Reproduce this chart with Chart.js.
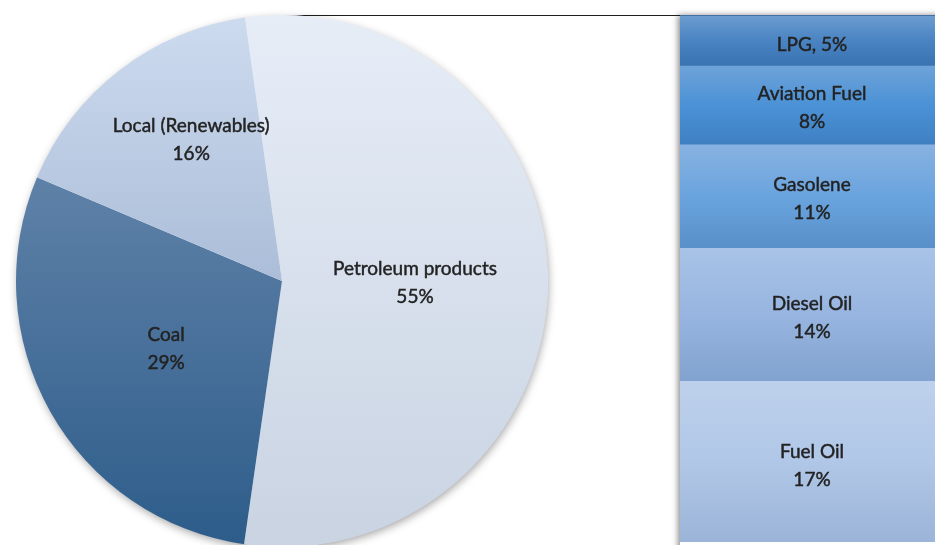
<!DOCTYPE html>
<html><head><meta charset="utf-8">
<script src="https://cdn.jsdelivr.net/npm/chart.js@4.4.0/dist/chart.umd.min.js"></script>
<style>
html,body{margin:0;padding:0;width:935px;height:545px;overflow:hidden;background:#fff;}
canvas{position:absolute;left:0;top:0;}
</style></head><body>
<canvas id="barC" width="948" height="545"></canvas>
<canvas id="pieC" width="564" height="564"></canvas>
<script>
// ---- data ----
const pieLabels = ['Petroleum products', 'Coal', 'Local (Renewables)'];
const pieValues = [54.5, 29.1, 16.4];
const barNames = ['LPG', 'Aviation Fuel', 'Gasolene', 'Diesel Oil', 'Fuel Oil'];
const barValues = [5.3, 8.3, 10.9, 14.0, 17.0];

// ---- styles ----
const FONT = '19px Lato';
const TXT = '#222222';
const pieGrad = [
  {c: ['#e6edf7', '#c9d3e2'], y: [-1, 1]},
  {c: ['#6183a9', '#2d5c8a'], y: [-0.45, 1]},
  {c: ['#cddbef', '#abbdd8'], y: [-1, 0]}
];
const pieLabelPos = [{r: 0.5, f: 0.5, dy: 2}, {r: 0.5, f: 0.5, dy: 3}, {r: 0.63, f: 0.58, dy: 0}];
const barGrad = [
  ['#6d9dd0', '#4a84c2', '#3a73b1'],
  ['#6fa3d9', '#4b92d6', '#3f80c3'],
  ['#88b2e1', '#6aa4de', '#5890c9'],
  ['#a8c3e7', '#97b5e0', '#82a3cf'],
  ['#bed1ec', '#b0c7e7', '#9cb4d8']
];
const barInline = [true, false, false, false, false];
const barLabelDy = [5, 3, 3, 4, 5];
const total = barValues.reduce((a, b) => a + b, 0);

function drawText(ctx, s, x, y) {
  ctx.strokeText(s, x, y);
  ctx.fillText(s, x, y);
}
function textStyle(ctx) {
  ctx.font = FONT;
  ctx.fillStyle = TXT;
  ctx.strokeStyle = TXT;
  ctx.lineWidth = 0.45;
  ctx.textAlign = 'center';
  ctx.textBaseline = 'middle';
}

// ---- pie ----
const pieShadow = {
  id: 'pieShadow',
  beforeDatasetsDraw(chart) {
    const a = chart.getDatasetMeta(0).data[0];
    if (!a) return;
    const ctx = chart.ctx;
    ctx.save();
    ctx.shadowColor = 'rgba(0,0,0,0.35)';
    ctx.shadowBlur = 8;
    ctx.shadowOffsetX = 1;
    ctx.shadowOffsetY = 3;
    ctx.fillStyle = '#ffffff';
    ctx.beginPath();
    ctx.arc(a.x, a.y, a.outerRadius - 0.5, 0, Math.PI * 2);
    ctx.fill();
    ctx.restore();
  }
};
const pieText = {
  id: 'pieText',
  afterDatasetsDraw(chart) {
    const ctx = chart.ctx;
    ctx.save();
    textStyle(ctx);
    chart.getDatasetMeta(0).data.forEach((a, i) => {
      const p = pieLabelPos[i];
      const ang = a.startAngle + (a.endAngle - a.startAngle) * p.f;
      const x = a.x + Math.cos(ang) * a.outerRadius * p.r;
      const y = a.y + Math.sin(ang) * a.outerRadius * p.r + p.dy;
      drawText(ctx, pieLabels[i], x, y - 14);
      drawText(ctx, Math.round(pieValues[i]) + '%', x, y + 14);
    });
    ctx.restore();
  }
};
new Chart(document.getElementById('pieC'), {
  type: 'pie',
  data: {
    labels: pieLabels,
    datasets: [{
      data: pieValues,
      borderWidth: 0,
      backgroundColor(c) {
        const ch = c.chart, area = ch.chartArea;
        const g = pieGrad[c.dataIndex];
        if (!area) return g.c[0];
        const cy = (area.top + area.bottom) / 2;
        const r = Math.min(area.right - area.left, area.bottom - area.top) / 2;
        const gr = ch.ctx.createLinearGradient(0, cy + g.y[0] * r, 0, cy + g.y[1] * r);
        gr.addColorStop(0, g.c[0]);
        gr.addColorStop(1, g.c[1]);
        return gr;
      }
    }]
  },
  options: {
    responsive: false,
    animation: false,
    rotation: -8,
    layout: {padding: {left: 16, right: 16, top: 15, bottom: 17}},
    plugins: {legend: {display: false}, tooltip: {enabled: false}}
  },
  plugins: [pieShadow, pieText]
});

// ---- bar ----
const barDeco = {
  id: 'barDeco',
  beforeDatasetsDraw(chart) {
    const a = chart.chartArea, ctx = chart.ctx;
    ctx.save();
    ctx.shadowColor = 'rgba(0,0,0,0.45)';
    ctx.shadowBlur = 6;
    ctx.shadowOffsetX = -2;
    ctx.shadowOffsetY = 0;
    ctx.fillStyle = '#ffffff';
    ctx.fillRect(a.left, a.top, a.right - a.left + 20, a.bottom - a.top + 20);
    ctx.restore();
  },
  afterDatasetsDraw(chart) {
    const a = chart.chartArea, ctx = chart.ctx;
    ctx.save();
    ctx.strokeStyle = '#4470a3';
    ctx.lineWidth = 1;
    ctx.beginPath();
    ctx.moveTo(a.left, a.top + 0.5);
    ctx.lineTo(a.right + 5, a.top + 0.5);
    ctx.stroke();
    const g = ctx.createLinearGradient(282, 0, 305, 0);
    g.addColorStop(0, 'rgba(40,40,40,0.15)');
    g.addColorStop(1, 'rgba(30,30,30,1)');
    ctx.strokeStyle = g;
    ctx.beginPath();
    ctx.moveTo(282, a.top + 0.5);
    ctx.lineTo(a.left, a.top + 0.5);
    ctx.stroke();
    textStyle(ctx);
    chart.data.datasets.forEach((ds, i) => {
      const el = chart.getDatasetMeta(i).data[0];
      const cx = el.x - 2;
      const cy = (el.y + el.base) / 2 + barLabelDy[i];
      const pct = Math.round(barValues[i]) + '%';
      if (barInline[i]) {
        drawText(ctx, barNames[i] + ', ' + pct, cx, cy);
      } else {
        drawText(ctx, barNames[i], cx, cy - 14);
        drawText(ctx, pct, cx, cy + 14);
      }
    });
    ctx.restore();
  }
};
new Chart(document.getElementById('barC'), {
  type: 'bar',
  data: {
    labels: [''],
    datasets: barNames.map((n, i) => ({
      label: n,
      data: [barValues[i]],
      borderWidth: 0,
      barPercentage: 1,
      categoryPercentage: 1,
      backgroundColor(c) {
        const ch = c.chart, sc = ch.scales && ch.scales.y;
        const col = barGrad[i];
        if (!ch.chartArea || !sc) return col[1];
        let start = 0;
        for (let k = 0; k < i; k++) start += barValues[k];
        const y0 = sc.getPixelForValue(start), y1 = sc.getPixelForValue(start + barValues[i]);
        const gr = ch.ctx.createLinearGradient(0, y0, 0, y1);
        gr.addColorStop(0, col[0]);
        gr.addColorStop(0.5, col[1]);
        gr.addColorStop(1, col[2]);
        return gr;
      }
    }))
  },
  options: {
    responsive: false,
    animation: false,
    layout: {padding: {left: 680, right: 0, top: 15, bottom: 3}},
    scales: {
      x: {display: false, stacked: true},
      y: {display: false, stacked: true, min: 0, max: total, reverse: true}
    },
    plugins: {legend: {display: false}, tooltip: {enabled: false}}
  },
  plugins: [barDeco]
});
</script>
</body></html>
